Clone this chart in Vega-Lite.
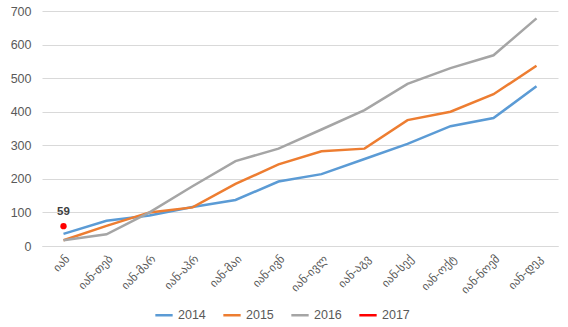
{
  "$schema": "https://vega.github.io/schema/vega-lite/v6.json",
  "width": 516,
  "height": 235,
  "autosize": {"type": "none"},
  "padding": {"left": 42, "top": 11, "right": 10, "bottom": 81},
  "background": "white",
  "config": {
    "view": {"stroke": null},
    "font": "Liberation Sans"
  },
  "data": {
    "values": [
      {"m": "იან", "y": "2014", "v": 36},
      {"m": "იან-თებ", "y": "2014", "v": 75},
      {"m": "იან-მარ", "y": "2014", "v": 91},
      {"m": "იან-აპრ", "y": "2014", "v": 116},
      {"m": "იან-მაი", "y": "2014", "v": 137},
      {"m": "იან-ივნ", "y": "2014", "v": 192},
      {"m": "იან-ივლ", "y": "2014", "v": 214},
      {"m": "იან-აგვ", "y": "2014", "v": 259},
      {"m": "იან-სექ", "y": "2014", "v": 304},
      {"m": "იან-ოქტ", "y": "2014", "v": 357},
      {"m": "იან-ნოემ", "y": "2014", "v": 381},
      {"m": "იან-დეკ", "y": "2014", "v": 476},
      {"m": "იან", "y": "2015", "v": 17},
      {"m": "იან-თებ", "y": "2015", "v": 60},
      {"m": "იან-მარ", "y": "2015", "v": 100},
      {"m": "იან-აპრ", "y": "2015", "v": 115},
      {"m": "იან-მაი", "y": "2015", "v": 185},
      {"m": "იან-ივნ", "y": "2015", "v": 243},
      {"m": "იან-ივლ", "y": "2015", "v": 282},
      {"m": "იან-აგვ", "y": "2015", "v": 290},
      {"m": "იან-სექ", "y": "2015", "v": 375},
      {"m": "იან-ოქტ", "y": "2015", "v": 400},
      {"m": "იან-ნოემ", "y": "2015", "v": 452},
      {"m": "იან-დეკ", "y": "2015", "v": 537},
      {"m": "იან", "y": "2016", "v": 17},
      {"m": "იან-თებ", "y": "2016", "v": 35},
      {"m": "იან-მარ", "y": "2016", "v": 100},
      {"m": "იან-აპრ", "y": "2016", "v": 178},
      {"m": "იან-მაი", "y": "2016", "v": 253},
      {"m": "იან-ივნ", "y": "2016", "v": 290},
      {"m": "იან-ივლ", "y": "2016", "v": 347},
      {"m": "იან-აგვ", "y": "2016", "v": 405},
      {"m": "იან-სექ", "y": "2016", "v": 483},
      {"m": "იან-ოქტ", "y": "2016", "v": 530},
      {"m": "იან-ნოემ", "y": "2016", "v": 568},
      {"m": "იან-დეკ", "y": "2016", "v": 678},
      {"m": "იან", "y": "2017", "v": 59}
    ]
  },
  "encoding": {
    "x": {
      "field": "m", "type": "ordinal", "sort": null,
      "scale": {"type": "point", "padding": 0.5},
      "axis": {
        "title": null, "labelAngle": -45, "ticks": false,
        "domainColor": "#D9D9D9", "labelFont": "DejaVu Sans",
        "labelFontSize": 11.5, "labelColor": "#595959", "labelPadding": 7
      }
    },
    "y": {
      "field": "v", "type": "quantitative",
      "scale": {"domain": [0, 700]},
      "axis": {
        "title": null, "values": [0,100,200,300,400,500,600,700],
        "domain": false, "ticks": false, "gridColor": "#D9D9D9",
        "labelFontSize": 12.5, "labelColor": "#595959", "labelPadding": 11
      }
    },
    "color": {
      "field": "y", "type": "nominal",
      "scale": {"domain": ["2014","2015","2016","2017"], "range": ["#5B9BD5","#ED7D31","#A5A5A5","#FF0000"]},
      "legend": {
        "title": null, "orient": "none", "direction": "horizontal",
        "legendX": 112, "legendY": 294, "symbolType": "stroke",
        "symbolStrokeWidth": 2.5, "symbolSize": 300, "labelFontSize": 12.5,
        "labelColor": "#595959", "columnPadding": 12
      }
    }
  },
  "layer": [
    {
      "transform": [{"filter": "datum.y != '2017'"}],
      "mark": {"type": "line", "strokeWidth": 2.5}
    },
    {
      "transform": [{"filter": "datum.y == '2017'"}],
      "mark": {"type": "point", "filled": true, "size": 40, "opacity": 1}
    },
    {
      "transform": [{"filter": "datum.y == '2017'"}],
      "mark": {"type": "text", "dy": -14, "fontWeight": "bold", "fontSize": 11.5},
      "encoding": {"text": {"field": "v"}, "color": {"value": "#404040"}}
    }
  ]
}
